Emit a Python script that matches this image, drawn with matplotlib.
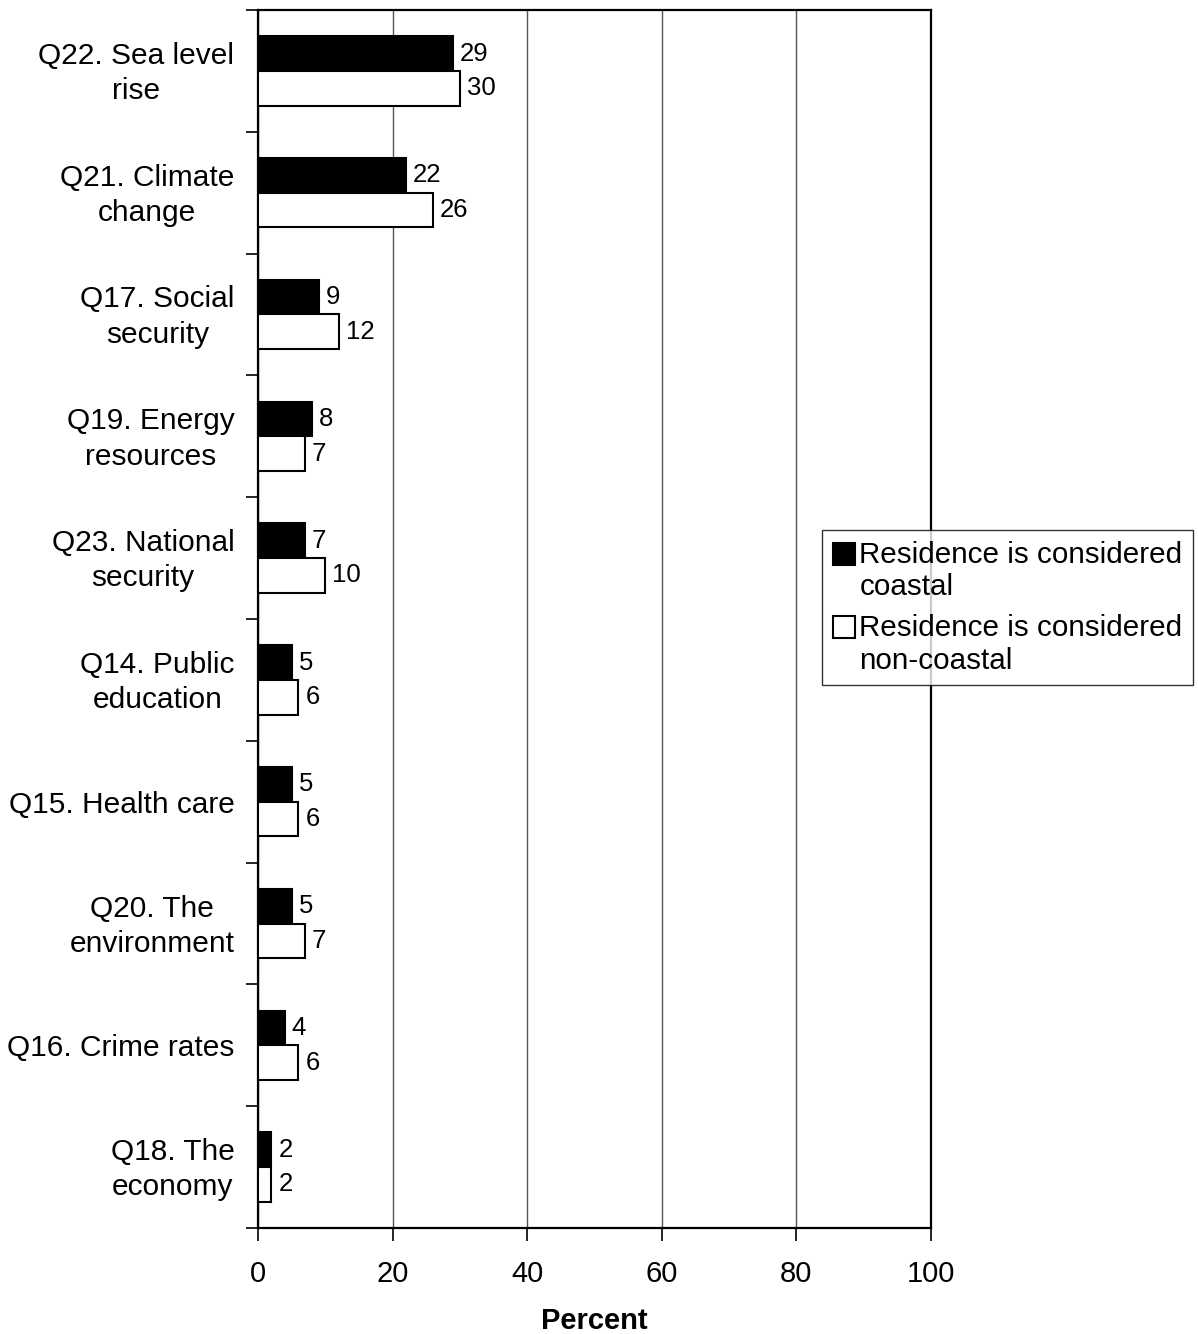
import matplotlib
matplotlib.use("Agg")
import matplotlib.pyplot as plt
import matplotlib.patches as mpatches
import matplotlib.transforms as mtransforms
from matplotlib.container import BarContainer
from matplotlib.legend_handler import HandlerPatch
import numpy as np

plt.rcParams['font.family'] = ['Liberation Sans', 'DejaVu Sans']

categories = ["Q22. Sea level\nrise", "Q21. Climate\nchange", "Q17. Social\nsecurity",
              "Q19. Energy\nresources", "Q23. National\nsecurity", "Q14. Public\neducation",
              "Q15. Health care", "Q20. The\nenvironment", "Q16. Crime rates",
              "Q18. The\neconomy"]
coastal = [29, 22, 9, 8, 7, 5, 5, 5, 4, 2]
non_coastal = [30, 26, 12, 7, 10, 6, 6, 7, 6, 2]
series_names = ["Residence is considered\ncoastal", "Residence is considered\nnon-coastal"]
x_ticks = [0, 20, 40, 60, 80, 100]


def top_square(legend, orig_handle, xdescent, ydescent, width, height, fontsize):
    # put the legend square next to the first line of a two-line label
    return mpatches.Rectangle((-xdescent, -ydescent + 0.6 * fontsize), width, height)


def style_square(legend_handle, orig_handle):
    src = orig_handle.patches[0] if isinstance(orig_handle, BarContainer) else orig_handle
    legend_handle.update_from(src)


fig = plt.figure(figsize=(11.98, 13.34), dpi=100)
ax = fig.add_axes([258 / 1198, 1 - 1228 / 1334, (931 - 258) / 1198, (1228 - 10) / 1334])

y = np.arange(len(categories))
h = 0.285
b1 = ax.barh(y - h / 2, coastal, height=h, color="black", edgecolor="black",
             linewidth=1.5, label=series_names[0], zorder=3)
b2 = ax.barh(y + h / 2, non_coastal, height=h, color="white", edgecolor="black",
             linewidth=1.5, label=series_names[1], zorder=3)

for bars, vals in ((b1, coastal), (b2, non_coastal)):
    for bar, v in zip(bars, vals):
        ax.annotate(str(v), (bar.get_width(), bar.get_y() + bar.get_height() / 2),
                    xytext=(5, 0), textcoords="offset points", va="center", ha="left",
                    fontsize=18.5)

ax.set_xlim(0, 100)
ax.set_ylim(len(categories) - 0.5, -0.5)
ax.set_xticks(x_ticks)
ax.set_xticklabels([str(t) for t in x_ticks], fontsize=21)
ax.set_yticks(y)
ax.set_yticklabels(categories, fontsize=21.5, ha="right", multialignment="center",
                   linespacing=1.33)
ax.set_yticks(np.arange(-0.5, len(categories), 1), minor=True)
ax.tick_params(axis="y", which="major", length=0, pad=17)
ax.tick_params(axis="y", which="minor", length=9, width=1.2, direction="out")
ax.tick_params(axis="x", which="major", length=9, width=1.2, direction="out", pad=14)
ax.xaxis.grid(True, color="#555555", linewidth=1, zorder=0)
ax.set_axisbelow(True)
for s in ax.spines.values():
    s.set_linewidth(1.6)

# two-line labels sit a little low when centred, nudge them up
shift = mtransforms.ScaledTranslation(0, 4 / 100, fig.dpi_scale_trans)
for lbl in ax.get_yticklabels():
    if "\n" in lbl.get_text():
        lbl.set_transform(lbl.get_transform() + shift)

ax.set_xlabel("Percent", fontsize=21, fontweight="bold", labelpad=14)

leg = fig.legend(loc="upper left", bbox_to_anchor=(822 / 1198, 1 - 530 / 1334),
                 fontsize=21.3, frameon=True, fancybox=False, edgecolor="black",
                 handlelength=0.75, handleheight=0.75, handletextpad=0.15,
                 borderpad=0.36, labelspacing=0.42, borderaxespad=0,
                 handler_map={BarContainer: HandlerPatch(patch_func=top_square,
                                                         update_func=style_square)})
leg.get_frame().set_linewidth(1.0)
for t in leg.get_texts():
    t.set_linespacing(1.22)

fig.savefig("out.png", dpi=100)
